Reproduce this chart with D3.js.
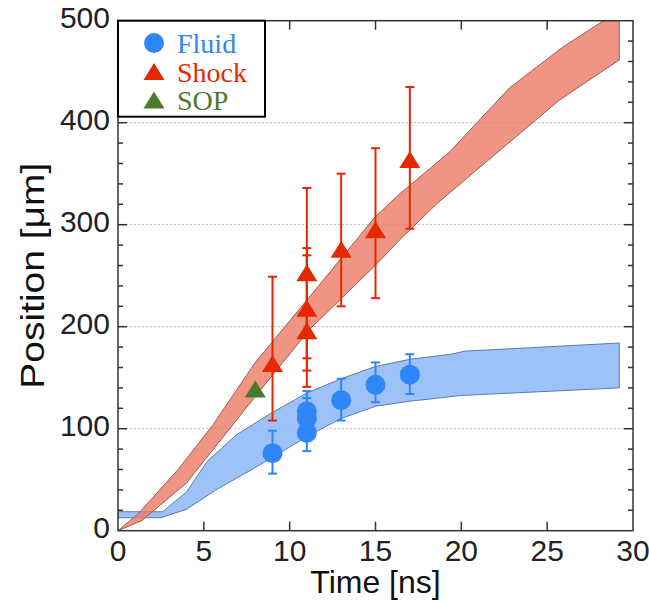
<!DOCTYPE html>
<html><head><meta charset="utf-8">
<script src="https://cdn.jsdelivr.net/npm/d3@7"></script>
<style>body{margin:0;background:#fff}svg{display:block}</style>
</head><body><svg id="c" width="649" height="605"></svg>
<script>
// ---- data ----
const xTicks = [0,5,10,15,20,25,30];
const yTicks = [0,100,200,300,400,500];
const legendLabels = ["Fluid","Shock","SOP"];

const fluidT    = [9, 11, 11, 11, 13, 15, 17];
const fluidV    = [76, 117, 110, 96, 128, 143, 153];
const fluidLow  = [56, 96, 92, 78, 108, 126, 134];
const fluidHigh = [98, 137, 130, 113, 149, 165, 173];

const shockT    = [9, 11, 11, 11, 13, 15, 17];
const shockV    = [163, 252, 217, 195, 275, 294, 363];
const shockLow  = [108, 169, 157, 141, 220, 228, 296];
const shockHigh = [249, 336, 277, 270, 350, 375, 435];

const sopT = [8];
const sopV = [138];

const shockBandUpper = [[0,0],[1.2,17],[3.5,60],[5.5,103],[8,165],[11,226],[15,308],[16.4,330],[19.3,371],[22.8,434],[25.9,474],[29.2,510]];
const shockBandLower = [[0,0],[1.4,10],[4,47],[8.3,138],[11.2,198],[15.1,262],[16.4,285],[18.6,321],[25.7,422],[29.2,461.5]];
const fluidBandUpper = [[0,18.6],[2.6,18.6],[4,38],[5.2,68],[6.9,94],[8.9,115],[11,135],[13,149],[15,161],[17,168],[19.4,173],[20.2,176],[29.2,184]];
const fluidBandLower = [[0,12.7],[2.5,12.7],[4,21],[5.7,40],[7.9,61],[10,82],[11.2,94],[13,110],[15,122],[17,127],[18.4,129.5],[19.9,132.5],[29.2,140]];

// ---- layout ----
const L = 118, R = 633, T = 20.7, B = 530.7;
const x = d3.scaleLinear().domain([0,30]).range([L,R]);
const y = d3.scaleLinear().domain([0,500]).range([B,T]);
const svg = d3.select("#c");
const FONT = "'Liberation Sans', Arial, sans-serif";
const SERIF = "'Liberation Serif', 'Times New Roman', serif";
const cBlue = "#2f86f6", cRed = "#e52800", cGreen = "#4c7a2c";

svg.append("defs").append("clipPath").attr("id","clip")
  .append("rect").attr("x",L).attr("y",T).attr("width",R-L).attr("height",B-T);

// grid
svg.append("g").selectAll("line").data(yTicks.filter(v=>v>0&&v<500)).join("line")
  .attr("x1",L).attr("x2",R).attr("y1",d=>y(d)).attr("y2",d=>y(d))
  .attr("stroke","#bdbdbd").attr("stroke-width",1).attr("stroke-dasharray","2,2");

// bands
const line = d3.line().x(d=>x(d[0])).y(d=>y(d[1]));
function band(up, low){ return line(up.concat(low.slice().reverse())) + "Z"; }
const bands = svg.append("g").attr("clip-path","url(#clip)");
bands.append("path").attr("d", band(fluidBandUpper, fluidBandLower))
  .attr("fill","#8fbaf8").attr("fill-opacity",0.88).attr("stroke","#5a7ca8").attr("stroke-width",1);
bands.append("path").attr("d", band(shockBandUpper, shockBandLower))
  .attr("fill","#ec7a65").attr("fill-opacity",0.8).attr("stroke","#a05a55").attr("stroke-width",1);

// error bars
function errBars(T_, lo, hi, color){
  const g = svg.append("g").attr("stroke",color).attr("stroke-width",2);
  const idx = d3.range(T_.length);
  g.selectAll(".v").data(idx).join("line")
    .attr("x1",i=>x(T_[i])).attr("x2",i=>x(T_[i])).attr("y1",i=>y(lo[i])).attr("y2",i=>y(hi[i]));
  g.selectAll(".lo").data(idx).join("line")
    .attr("x1",i=>x(T_[i])-4.5).attr("x2",i=>x(T_[i])+4.5).attr("y1",i=>y(lo[i])).attr("y2",i=>y(lo[i]));
  g.selectAll(".hi").data(idx).join("line")
    .attr("x1",i=>x(T_[i])-4.5).attr("x2",i=>x(T_[i])+4.5).attr("y1",i=>y(hi[i])).attr("y2",i=>y(hi[i]));
}
errBars(fluidT, fluidLow, fluidHigh, cBlue);
errBars(shockT, shockLow, shockHigh, cRed);

const tri = "M0,-9.5L10.5,7.5L-10.5,7.5Z";
svg.append("g").selectAll("circle").data(d3.range(fluidT.length)).join("circle")
  .attr("cx",i=>x(fluidT[i])).attr("cy",i=>y(fluidV[i])).attr("r",10).attr("fill",cBlue);
svg.append("g").selectAll("path").data(d3.range(shockT.length)).join("path")
  .attr("d",tri).attr("transform",i=>`translate(${x(shockT[i])},${y(shockV[i])})`).attr("fill",cRed);
svg.append("g").selectAll("path").data(d3.range(sopT.length)).join("path")
  .attr("d",tri).attr("transform",i=>`translate(${x(sopT[i])},${y(sopV[i])})`).attr("fill",cGreen);

// axes frame & ticks
const ax = svg.append("g").attr("stroke","#333").attr("stroke-width",1.5);
ax.append("rect").attr("x",L).attr("y",T).attr("width",R-L).attr("height",B-T).attr("fill","none");
const xt = xTicks.filter(v=>v>0&&v<30);
ax.selectAll(".xb").data(xt).join("line").attr("x1",d=>x(d)).attr("x2",d=>x(d)).attr("y1",B).attr("y2",B-9);
ax.selectAll(".xt").data(xt).join("line").attr("x1",d=>x(d)).attr("x2",d=>x(d)).attr("y1",T).attr("y2",T+9);
const yMinor = d3.range(20,500,20);
ax.selectAll(".yl").data(yMinor).join("line").attr("x1",L).attr("x2",d=>L+(d%100===0?9:5)).attr("y1",d=>y(d)).attr("y2",d=>y(d));
ax.selectAll(".yr").data(yMinor).join("line").attr("x1",R).attr("x2",d=>R-(d%100===0?9:5)).attr("y1",d=>y(d)).attr("y2",d=>y(d));

// tick labels
svg.append("g").selectAll("text").data(xTicks).join("text")
  .attr("x",d=>x(d)).attr("y",B+30).attr("text-anchor","middle")
  .attr("font-family",FONT).attr("font-size",30).attr("fill","#222").text(d=>d);
svg.append("g").selectAll("text").data(yTicks).join("text")
  .attr("x",L-8).attr("y",d=>y(d)+7).attr("text-anchor","end")
  .attr("font-family",FONT).attr("font-size",30).attr("fill","#222").text(d=>d);

svg.append("text").attr("x",x(15)).attr("y",593).attr("text-anchor","middle")
  .attr("font-family",FONT).attr("font-size",32).attr("fill","#111").text("Time [ns]");
svg.append("text").attr("transform",`translate(44,${y(250)}) rotate(-90)`).attr("text-anchor","middle")
  .attr("font-family",FONT).attr("font-size",34).attr("fill","#111")
  .attr("textLength",226).attr("lengthAdjust","spacingAndGlyphs").text("Position [μm]");

// legend
const lg = svg.append("g");
lg.append("rect").attr("x",L).attr("y",T).attr("width",147).attr("height",96)
  .attr("fill","#fff").attr("stroke","#000").attr("stroke-width",2);
const lgColors = [cBlue,cRed,cGreen];
legendLabels.forEach((lab,i)=>{
  const cy = 43 + i*28.5;
  if(i===0) lg.append("circle").attr("cx",154).attr("cy",cy).attr("r",10).attr("fill",lgColors[i]);
  else lg.append("path").attr("d",tri).attr("transform",`translate(154,${cy+1})`).attr("fill",lgColors[i]);
  lg.append("text").attr("x",177).attr("y",cy+10).attr("font-family",SERIF).attr("font-size",28)
    .attr("fill",lgColors[i]).text(lab);
});
</script></body></html>
